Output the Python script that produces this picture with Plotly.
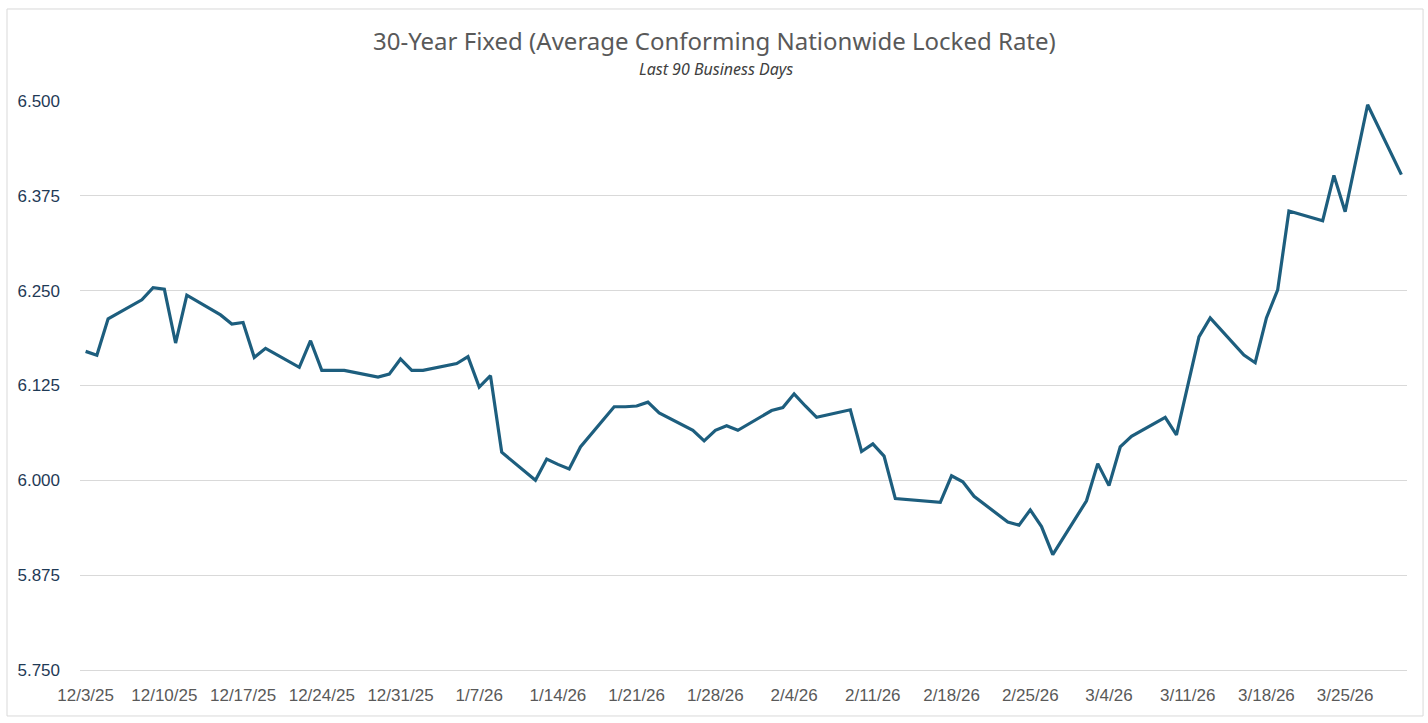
import plotly.graph_objects as go

# Business days shown on the chart (weekends skipped)
dates = [
    "2025-12-03", "2025-12-04", "2025-12-05",
    "2025-12-08", "2025-12-09", "2025-12-10", "2025-12-11", "2025-12-12",
    "2025-12-15", "2025-12-16", "2025-12-17", "2025-12-18", "2025-12-19",
    "2025-12-22", "2025-12-23", "2025-12-24", "2025-12-25", "2025-12-26",
    "2025-12-29", "2025-12-30", "2025-12-31", "2026-01-01", "2026-01-02",
    "2026-01-05", "2026-01-06", "2026-01-07", "2026-01-08", "2026-01-09",
    "2026-01-12", "2026-01-13", "2026-01-14", "2026-01-15", "2026-01-16",
    "2026-01-19", "2026-01-20", "2026-01-21", "2026-01-22", "2026-01-23",
    "2026-01-26", "2026-01-27", "2026-01-28", "2026-01-29", "2026-01-30",
    "2026-02-02", "2026-02-03", "2026-02-04", "2026-02-05", "2026-02-06",
    "2026-02-09", "2026-02-10", "2026-02-11", "2026-02-12", "2026-02-13",
    "2026-02-16", "2026-02-17", "2026-02-18", "2026-02-19", "2026-02-20",
    "2026-02-23", "2026-02-24", "2026-02-25", "2026-02-26", "2026-02-27",
    "2026-03-02", "2026-03-03", "2026-03-04", "2026-03-05", "2026-03-06",
    "2026-03-09", "2026-03-10", "2026-03-11", "2026-03-12", "2026-03-13",
    "2026-03-16", "2026-03-17", "2026-03-18", "2026-03-19", "2026-03-20",
    "2026-03-23", "2026-03-24", "2026-03-25", "2026-03-26", "2026-03-27",
    "2026-03-30",
]

# Average locked rate (%)
rates = [
    6.170, 6.165, 6.213,
    6.238, 6.254, 6.252, 6.181, 6.244,
    6.218, 6.206, 6.208, 6.162, 6.174,
    6.149, 6.184, 6.145, 6.145, 6.145,
    6.136, 6.140, 6.160, 6.145, 6.145,
    6.154, 6.163, 6.123, 6.138, 6.037,
    6.000, 6.028, 6.021, 6.015, 6.044,
    6.097, 6.097, 6.098, 6.103, 6.089,
    6.066, 6.052, 6.066, 6.072, 6.066,
    6.092, 6.096, 6.114, 6.098, 6.083,
    6.093, 6.038, 6.048, 6.032, 5.976,
    5.973, 5.971, 6.006, 5.998, 5.979,
    5.945, 5.941, 5.961, 5.939, 5.902,
    5.973, 6.022, 5.993, 6.044, 6.058,
    6.083, 6.060, 6.125, 6.189, 6.214,
    6.165, 6.155, 6.214, 6.251, 6.355,
    6.342, 6.402, 6.354, 6.425, 6.495,
    6.403,
]

title_text = "30-Year Fixed (Average Conforming Nationwide Locked Rate)"
subtitle_text = "Last 90 Business Days"

line_color = "#1d5e7e"
grid_color = "#d9d9d9"

fig = go.Figure()

fig.add_trace(
    go.Scatter(
        x=dates,
        y=rates,
        mode="lines",
        line=dict(color=line_color, width=3.2),
        hoverinfo="x+y",
    )
)

fig.update_xaxes(
    type="date",
    range=["2025-12-02 12:00", "2026-03-30 12:00"],
    tick0="2025-12-03",
    dtick=7 * 86400000,
    tickformat="%-m/%-d/%y",
    showgrid=False,
    showline=True,
    linecolor=grid_color,
    linewidth=1,
    ticks="",
    ticklabelstandoff=10,
    tickfont=dict(family="Liberation Sans", size=17, color="#595959"),
)

fig.update_yaxes(
    range=[5.75, 6.5],
    tick0=5.75,
    dtick=0.125,
    tickformat=".3f",
    showgrid=True,
    gridcolor=grid_color,
    gridwidth=1,
    zeroline=False,
    ticks="",
    ticklabelstandoff=19,
    tickfont=dict(family="Liberation Sans", size=17, color="#1f3a56"),
)

fig.update_layout(
    width=1428,
    height=723,
    margin=dict(l=80, r=21, t=101, b=53),
    plot_bgcolor="white",
    paper_bgcolor="white",
    showlegend=False,
    annotations=[
        dict(
            text=title_text,
            xref="paper", yref="paper",
            x=0.478, y=1.107,
            xanchor="center", yanchor="middle",
            showarrow=False,
            font=dict(family="Noto Sans", size=24, color="#595959"),
        ),
        dict(
            text=f"<i>{subtitle_text}</i>",
            xref="paper", yref="paper",
            x=0.479, y=1.056,
            xanchor="center", yanchor="middle",
            showarrow=False,
            font=dict(family="Noto Sans", size=16, color="#404040"),
        ),
    ],
    shapes=[
        # light frame around the whole chart
        dict(
            type="rect",
            xref="paper", yref="paper",
            x0=-0.055, x1=1.0121, y0=-0.0808, y1=1.1617,
            line=dict(color=grid_color, width=1),
            fillcolor="rgba(0,0,0,0)",
            layer="below",
        )
    ],
)

# drop the default body margin so the figure sits at the window's top-left
fig.write_html(
    "out.html",
    config={"displayModeBar": False},
    post_script="document.body.style.margin='0';",
)
